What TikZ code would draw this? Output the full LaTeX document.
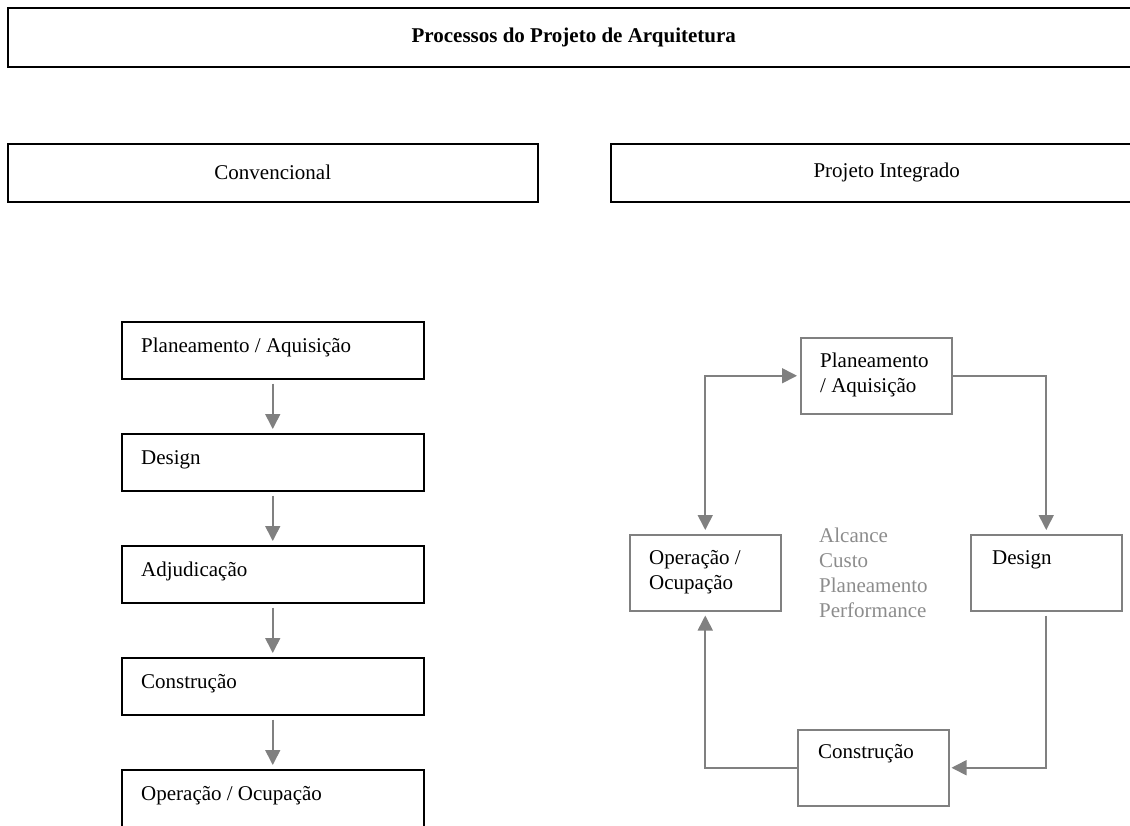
\documentclass[tikz,border=0pt]{standalone}
\usepackage{fontspec}
\setmainfont{Liberation Serif}
\usetikzlibrary{arrows.meta}

\definecolor{linegray}{RGB}{128,128,128}
\definecolor{textgray}{RGB}{140,140,140}

\tikzset{
  hdrbox/.style={draw=black, line width=1.5pt, anchor=north west, inner sep=0pt,
                 font=\fontsize{21}{25}\selectfont},
  lbox/.style={draw=black, line width=1.5pt, anchor=north west, inner sep=0pt,
               minimum width=302pt, minimum height=57pt},
  rbox/.style={draw=linegray, line width=1.5pt, anchor=north west, inner sep=0pt,
               minimum width=151pt, minimum height=76pt},
  % base anchor of a multi-line node sits on its last line
  boxtext/.style={anchor=base west, inner sep=0pt, align=left,
                  font=\fontsize{21}{25}\selectfont},
  flow/.style={draw=linegray, line width=1.6pt,
               -{Triangle[length=15pt,width=15pt]}},
  flowboth/.style={draw=linegray, line width=1.6pt,
               {Triangle[length=15pt,width=15pt]}-{Triangle[length=15pt,width=15pt]}},
}

\begin{document}
\begin{tikzpicture}[x=1pt,y=-1pt]
\useasboundingbox (0,0) rectangle (1130,825);

% headers
\node[hdrbox, minimum width=1132pt, minimum height=59pt] (title) at (7,7)
  {\textbf{Processos do Projeto de Arquitetura}};
\node[hdrbox, minimum width=530pt, minimum height=58pt] (conv) at (7,143) {Convencional};
\node[hdrbox, minimum width=552pt, minimum height=58pt] (integ) at (610,143) {Projeto Integrado};

% conventional, linear sequence
\node[lbox] (c1) at (121,321) {};
\node[lbox] (c2) at (121,433) {};
\node[lbox] (c3) at (121,545) {};
\node[lbox] (c4) at (121,657) {};
\node[lbox, minimum height=60pt] (c5) at (121,769) {};
\foreach \b/\t in {c1/{Planeamento / Aquisição}, c2/Design, c3/Adjudicação,
                   c4/Construção, c5/{Operação / Ocupação}}
  \node[boxtext] (\b t) at ([xshift=20pt,yshift=-31pt]\b.north west) {\t};
\foreach \a/\b in {c1/c2, c2/c3, c3/c4, c4/c5}
  \draw[flow, shorten <=4pt, shorten >=4pt] (\a.south) -- (\b.north);

% integrated, cycle
\node[rbox] (plan) at (800,337) {};
\node[rbox] (des)  at (970,534) {};
\node[rbox] (cons) at (797,729) {};
\node[rbox] (op)   at (629,534) {};
\node[boxtext] (plant) at ([xshift=20pt,yshift=-55pt]plan.north west) {Planeamento\\/ Aquisição};
\node[boxtext] (dest)  at ([xshift=22pt,yshift=-30pt]des.north west) {Design};
\node[boxtext] (const) at ([xshift=21pt,yshift=-29pt]cons.north west) {Construção};
\node[boxtext] (opt)   at ([xshift=20pt,yshift=-55pt]op.north west) {Operação /\\Ocupação};

\node[boxtext, text=textgray] (goals) at (819,617)
  {Alcance\\Custo\\Planeamento\\Performance};

\draw[flowboth, shorten <=4pt, shorten >=3pt] (op.north) |- (plan.west);
\draw[flow, shorten >=4pt] (plan.east) -| (des.north);
\draw[flow, shorten <=4pt, shorten >=2pt] (des.south) |- (cons.east);
\draw[flow, shorten >=4pt] (cons.west) -| (op.south);
\end{tikzpicture}
\end{document}
